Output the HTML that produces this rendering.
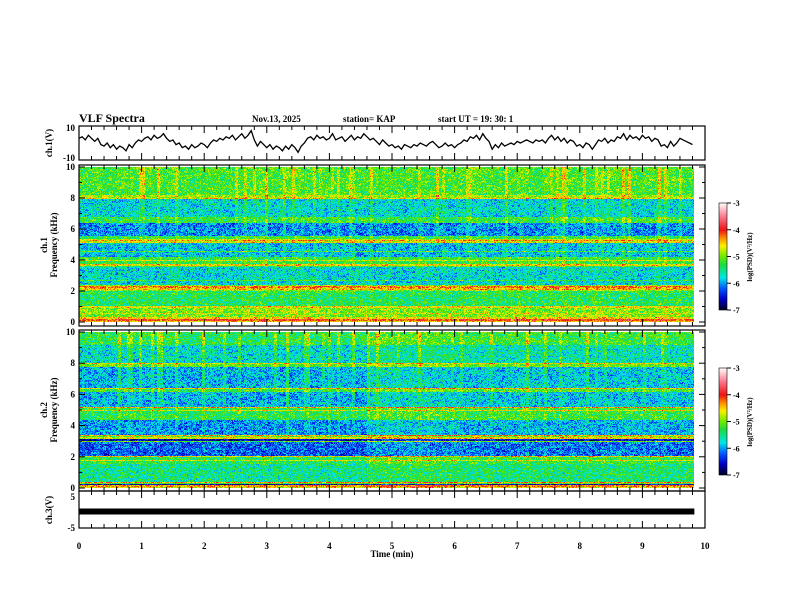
<!DOCTYPE html>
<html><head><meta charset="utf-8"><style>
body{margin:0;background:#fff;}
#wrap{position:relative;width:792px;height:612px;overflow:hidden;background:#fff;font-family:"Liberation Serif",serif;}
canvas{position:absolute;image-rendering:pixelated;}
svg{position:absolute;left:0;top:0;}
</style></head><body>
<div id="wrap">
<canvas id="spec1" width="615" height="155" style="left:79px;top:167px;width:615px;height:155px"></canvas>
<canvas id="spec2" width="615" height="156" style="left:79px;top:332px;width:615px;height:156px"></canvas>
<canvas id="cb1" width="8" height="107" style="left:719px;top:203px;width:8px;height:107px"></canvas>
<canvas id="cb2" width="8" height="107" style="left:719px;top:368px;width:8px;height:107px"></canvas>
<svg id="fig" width="792" height="612"></svg>
</div>
<script>
// ---- data ----
const ch1Profile=[-5.2,-5.2,-5.2,-5.2,-5.2,-5.2,-5.2,-5.2,-5.2,-4.9,-5.8,-5.8,-5.8,-5.8,-5.8,-5.8,-5.3,-5.3,-6.1,-6.1,-6.1,-6.1,-5.3,-4.8,-5.9,-5.9,-5.9,-5.9,-5.9,-5.3,-5.3,-5.3,-5.8,-5.8,-5.8,-5.8,-5.8,-5.8,-5.0,-5.0,-5.4,-5.4,-5.4,-5.4,-5.4,-5.0,-5.0,-5.0,-5.0,-5.0];
const ch2Profile=[-5.3,-5.3,-5.3,-5.3,-5.7,-5.7,-5.7,-5.7,-5.7,-5.7,-5.1,-5.9,-5.9,-5.9,-5.9,-5.9,-5.9,-5.9,-5.2,-5.9,-5.9,-5.9,-5.9,-5.9,-5.3,-5.3,-5.3,-5.3,-6.0,-6.0,-6.0,-6.0,-6.0,-5.1,-5.1,-6.2,-6.2,-6.2,-6.2,-6.2,-5.3,-5.3,-5.5,-5.5,-5.5,-5.5,-5.5,-5.5,-5.2,-5.2];
const ch1Lines=[[8.0,-4.6],[5.3,-4.4],[5.15,-4.6],[4.6,-5.2],[4.0,-4.7],[3.7,-4.6],[2.7,-5.3],[2.3,-4.3],[2.15,-4.5],[1.0,-4.6],[0.6,-4.7],[0.3,-4.6],[0.15,-4.1],[0.05,-4.5]];
const ch2Lines=[[8.0,-4.6],[6.4,-4.5],[5.2,-4.4],[5.0,-4.7],[3.4,-4.4],[3.25,-4.6],[3.1,-6.6],[2.05,-4.5],[1.8,-4.7],[0.4,-4.3],[0.25,-6.6],[0.15,-4.3],[0.05,-4.6]];
const ch1Activity=[0,0.05,0,0.05,0,0.05,0,0.05,0,0,0.05,0,0,0.05,0.1,0,0.05,0.1,0.05,0,0,0,0,0,0.05,0,0,0.05,0,0,0.05,0.1,0.05,0,0.05,0.1,0,0.05,0.1,0.05,0.05,0.1,0.05,0.1,0,0.05,0.1,0.05,0,0.05];
const ch2Activity=[-0.05,0,-0.05,0,-0.05,0,-0.05,0,-0.05,-0.05,0,-0.05,-0.05,-0.05,0,-0.05,-0.05,-0.05,-0.05,-0.05,-0.05,-0.05,-0.05,0.15,0.2,0.15,0.15,0.2,0.15,0.1,0.05,0.05,0.05,0.05,0.05,0.1,0.05,0.05,0.05,0.05,0.05,0.05,0.05,0.1,0.05,0.05,0.05,0.05,0.05,0.05];
const ch1Trace=[3,4,2,5,3,1,3,-1,-2,0,-3,-1,-4,-2,-3,-5,-1,-3,0,2,1,3,4,2,5,3,4,6,3,1,2,-1,0,-3,-2,-4,-1,-3,-2,0,-1,-3,0,2,1,3,2,4,3,5,2,4,6,3,5,8,2,-2,1,-1,-3,-1,-4,-2,-3,-5,-2,-4,-1,-3,-6,-2,0,3,4,2,5,3,4,2,3,6,2,3,4,1,3,5,2,4,3,6,4,2,3,1,-1,2,0,-2,-1,-3,-2,-4,-1,-2,-3,-1,-2,0,-1,-2,0,1,-1,-3,-2,0,-2,-1,-3,-1,0,2,1,4,3,5,2,6,3,1,-4,-1,-3,0,-2,-1,0,-1,1,0,1,2,1,0,2,1,2,0,3,5,2,4,1,3,0,2,1,-2,-1,-3,0,-1,-4,-1,2,1,3,0,2,1,4,3,6,2,5,3,4,2,5,3,4,1,3,2,-2,-1,-3,1,-2,0,3,2,1,0,-1];
const timeTicks=[0,1,2,3,4,5,6,7,8,9,10];
const freqTicks=[0,2,4,6,8,10];
const cbTicks=[-3,-4,-5,-6,-7];
const ch3Level=-0.5;
// ---- scales ----
const X0=79,X1=705;
const xs=t=>X0+(X1-X0)*t/10;
const TMAX=9.83;
function cmap(v){
  const s=[[-7,[0,0,40]],[-6.6,[0,0,200]],[-6.2,[0,90,255]],[-5.8,[0,230,230]],[-5.3,[30,220,60]],[-5.0,[110,235,0]],[-4.6,[250,240,0]],[-4.3,[255,140,0]],[-4.0,[235,20,20]],[-3.5,[250,120,140]],[-3,[255,250,250]]];
  if(v<=s[0][0])return s[0][1];
  for(let i=1;i<s.length;i++){if(v<=s[i][0]){const a=s[i-1],b=s[i],f=(v-a[0])/(b[0]-a[0]);return a[1].map((c,k)=>Math.round(c+(b[1][k]-c)*f));}}
  return s[s.length-1][1];
}
function hsh(a,b){let h=(a*374761393+b*668265263)>>>0;h=((h^(h>>>13))*1274126177)>>>0;return ((h^(h>>>16))>>>0)/4294967296;}
function drawSpec(id,prof,lines,act,seed){
  const c=document.getElementById(id),g=c.getContext('2d'),W=c.width,H=c.height;
  const img=g.createImageData(W,H);
  for(let y=0;y<H;y++){
    const pi=Math.min(prof.length-1,Math.floor(y/H*prof.length));
    const f=10*(1-y/H);
    let lineV=null;
    lines.forEach(L=>{if(Math.abs(L[0]-f)<0.045)lineV=L[1];});
    for(let x=0;x<W;x++){
      const t=x/W*TMAX;
      const ai=Math.min(act.length-1,Math.floor(t/0.2));
      const cg=Math.floor(x/3);
      const sr=hsh(cg,seed);
      let streak=0;
      if(sr<0.16)streak=(0.3+sr*2.5)*Math.pow(f/10,1.6);
      const n=(hsh(x*7+seed,y*13)-0.5)*0.7+(hsh(cg,Math.floor(y/2)+seed)-0.5)*0.45;
      let base=lineV!==null?lineV:prof[pi];
      const v=base+act[ai]+n+streak;
      const rgb=cmap(v),o=(y*W+x)*4;
      img.data[o]=rgb[0];img.data[o+1]=rgb[1];img.data[o+2]=rgb[2];img.data[o+3]=255;
    }
  }
  g.putImageData(img,0,0);
}
drawSpec('spec1',ch1Profile,ch1Lines,ch1Activity,11);
drawSpec('spec2',ch2Profile,ch2Lines,ch2Activity,97);
['cb1','cb2'].forEach(id=>{const c=document.getElementById(id),g=c.getContext('2d');
  for(let y=0;y<c.height;y++){const v=-3-4*y/(c.height-1);const r=cmap(v);g.fillStyle=`rgb(${r})`;g.fillRect(0,y,8,1);}});
// ---- svg ----
const NS='http://www.w3.org/2000/svg',svg=document.getElementById('fig');
function el(tag,at,txt){const e=document.createElementNS(NS,tag);for(const k in at)e.setAttribute(k,at[k]);if(txt!==undefined)e.textContent=txt;svg.appendChild(e);return e;}
function txt(x,y,s,size,name,anchor,rot){const e=el('text',{x:x,y:y,'font-size':size,'font-family':'Liberation Serif, serif','font-weight':'bold','text-anchor':anchor||'start'},s);
  if(rot)e.setAttribute('transform',`rotate(-90 ${x} ${y})`);
  
  return e;}
txt(79,122,'VLF Spectra',12,'chart-title');
txt(252,122,'Nov.13, 2025',9,'date-label');
txt(343,122,'station= KAP',9,'station-label');
txt(438,122,'start  UT =   19: 30: 1',9,'start-time-label');
const panels=[[126,160,'ch1-trace-panel'],[165,326,'ch1-spec-panel'],[330,491,'ch2-spec-panel'],[491,528,'ch3-panel']];
panels.forEach(p=>{
  const r=el('rect',{x:X0,y:p[0],width:X1-X0,height:p[1]-p[0],fill:'none',stroke:'#000','stroke-width':1.2});
  
  
  for(let t=0;t<=10.001;t+=0.2){
    const major=Math.abs(t-Math.round(t))<0.01,L=major?7:4,x=xs(t);
    const a=el('line',{x1:x,y1:p[0],x2:x,y2:p[0]+L,stroke:'#000','stroke-width':1});
    
    
    const b=el('line',{x1:x,y1:p[1],x2:x,y2:p[1]-L,stroke:'#000','stroke-width':1});
    
    
  }
});
const ys1=v=>143-v*(15.5/10);
let d='';ch1Trace.forEach((v,i)=>{d+=(i?'L':'M')+xs(Math.min(TMAX,i*0.05)).toFixed(1)+','+ys1(v).toFixed(1);});
const tr=el('path',{d:d,fill:'none',stroke:'#000','stroke-width':1.3});


txt(75,131,'10',9,'ch1-ytick','end');txt(75,161,'-10',9,'ch1-ytick','end');
txt(52,143,'ch.1(V)',9,'ch1-trace-ylabel','middle',true);
function fAxis(top,bot,prefix){
  const fy=f=>bot-(bot-top)*f/10;
  for(let f=0;f<=10;f+=1){const y=fy(f),L=f%2?3:6;
    const a=el('line',{x1:X0,y1:y,x2:X0+L,y2:y,stroke:'#000'});
    const b=el('line',{x1:X1,y1:y,x2:X1-L,y2:y,stroke:'#000'});}
  freqTicks.forEach(f=>txt(75,fy(f)+3,String(f),9,prefix+'-ytick-label','end'));
}
fAxis(167,322,'ch1');fAxis(332,488,'ch2');
txt(47,245,'ch.1',9,'ch1-ylabel','middle',true);
txt(57,245,'Frequency  (kHz)',9,'ch1-ylabel-freq','middle',true);
txt(47,410,'ch.2',9,'ch2-ylabel','middle',true);
txt(57,410,'Frequency  (kHz)',9,'ch2-ylabel-freq','middle',true);
[[203,'cb1'],[368,'cb2']].forEach(c=>{
  const fr=el('rect',{x:719,y:c[0],width:8,height:107,fill:'none',stroke:'#000','stroke-width':0.6});
  
  cbTicks.forEach(v=>{const y=c[0]+(-3-v)/4*107;
    const l=el('line',{x1:727,y1:y,x2:731,y2:y,stroke:'#000'});
    txt(733,y+3,String(v),8,c[1]+'-tick-label');});
  txt(752,c[0]+54,'log(PSD)(V²/Hz)',7,c[1]+'-label','middle',true);
});
const ys3=v=>511.5-(v+0.5)*(15/5);
const bar=el('rect',{x:X0,y:ys3(ch3Level)-3,width:xs(TMAX)-X0,height:6,fill:'#000'});

txt(75,500,'5',9,'ch3-ytick','end');txt(75,531,'-5',9,'ch3-ytick','end');
txt(52,510,'ch.3(V)',9,'ch3-ylabel','middle',true);
timeTicks.forEach(t=>txt(xs(t),549,String(t),9,'time-tick-label','middle'));
txt(392,557,'Time  (min)',9,'x-axis-title','middle');
</script>
</body></html>
